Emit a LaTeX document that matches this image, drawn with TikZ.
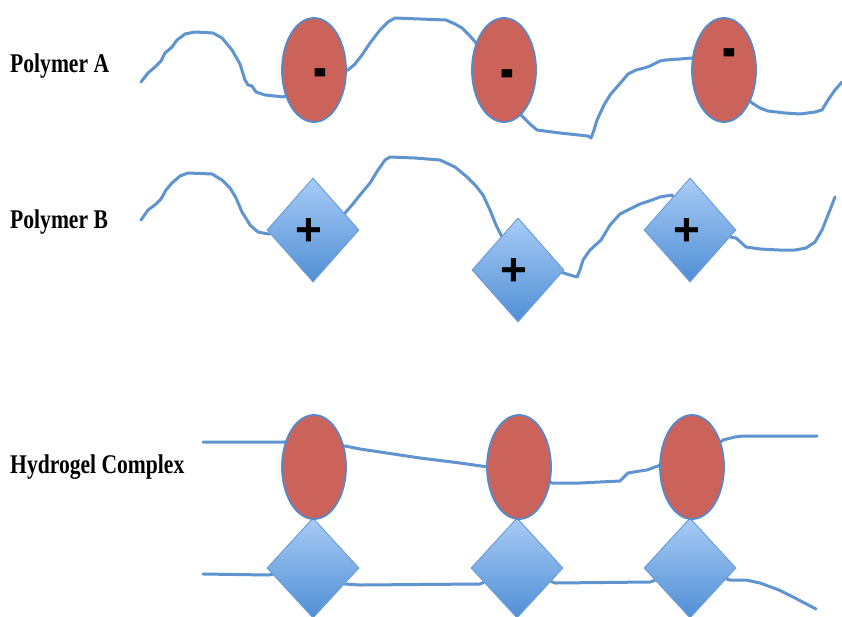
\documentclass[tikz,border=0pt]{standalone}
\usepackage{graphicx}
\usepackage{fontspec}
\setmainfont{Liberation Serif}
\newfontfamily\labelfont[FakeStretch=0.8]{Liberation Serif}
\newfontfamily\signfont{Liberation Sans}
\usetikzlibrary{shapes.geometric}

\definecolor{chainblue}{RGB}{96,148,207}
\definecolor{rimblue}{RGB}{88,136,200}
\definecolor{anionred}{RGB}{203,99,90}
\definecolor{gemrim}{RGB}{110,158,214}
\definecolor{gemtop}{RGB}{168,203,246}
\definecolor{gembottom}{RGB}{80,143,213}

\pgfdeclarelayer{paper}
\pgfdeclarelayer{chains}
\pgfsetlayers{paper,chains,main}

\tikzset{
  chain/.style={draw=chainblue, line width=3pt, line join=round, line cap=round},
  anion/.style={ellipse, draw=rimblue, line width=1.8pt, fill=anionred,
    minimum width=64pt, minimum height=104pt, inner sep=0pt},
  cation/.style={diamond, draw=gemrim, line width=1pt, top color=gemtop,
    bottom color=gembottom, minimum width=92pt, minimum height=104pt, inner sep=0pt},
  minus/.style={font=\signfont\bfseries\fontsize{36}{36}\selectfont, inner sep=0pt},
  plus/.style={font=\signfont\bfseries\fontsize{46}{46}\selectfont, inner sep=0pt},
  tag/.style={font=\labelfont\bfseries\fontsize{27}{27}\selectfont, anchor=base west, inner sep=0pt},
}
\newcommand{\negsign}{\scalebox{1.15}[1.9]{-}}

\begin{document}
\begin{tikzpicture}[x=1pt, y=-1pt]
\useasboundingbox (0,0) rectangle (842,616);
\begin{pgfonlayer}{paper}
\fill[white] (0,0) rectangle (842,616);
\end{pgfonlayer}

% labels
\node[tag] (labA) at (10,72) {Polymer A};
\node[tag] (labB) at (10,228) {Polymer B};
\node[tag] (labC) at (10,473) {Hydrogel Complex};

% polymer A: anionic groups
\node[anion] (A1) at (314,70) {};
\node[anion] (A2) at (504,70) {};
\node[anion] (A3) at (724,70) {};
\node[minus] (mA1) at (320,80) {\negsign};
\node[minus] (mA2) at (507,81) {\negsign};
\node[minus] (mA3) at (729,60) {\negsign};

% polymer B: cationic groups
\node[cation] (B1) at (313,230) {};
\node[cation] (B2) at (518,270) {};
\node[cation] (B3) at (690,230) {};
\node[plus] (pB1) at (309,232) {+};
\node[plus] (pB2) at (514,272) {+};
\node[plus] (pB3) at (687,232) {+};

% hydrogel complex: paired groups
\node[cation, minimum height=100pt] (D1) at (313,568) {};
\node[cation, minimum height=100pt] (D2) at (517,568) {};
\node[cation, minimum height=100pt] (D3) at (690,568) {};
\node[anion] (C1) at (314,467) {};
\node[anion] (C2) at (519,467) {};
\node[anion] (C3) at (692,467) {};

\coordinate (aS) at (141,82);  \coordinate (aE) at (842,82);
\coordinate (bS) at (141,220); \coordinate (bE) at (835,197);
\coordinate (cS) at (203,442); \coordinate (cE) at (817,436);
\coordinate (dS) at (203,574); \coordinate (dE) at (816,609);

\begin{pgfonlayer}{chains}
% polymer A backbone
\draw[chain] (aS) -- (148,73) -- (155,67) -- (161,61) -- (165,53) -- (172,47) -- (177,40)
  -- (185,34) -- (195,32) -- (213,33) -- (222,38) -- (232,50) -- (240,64) -- (245,80)
  -- (248,85) -- (252,86) -- (256,92) -- (265,95) -- (284,97) -- (A1);
\draw[chain] (A1) -- (348,70) -- (355,64) -- (362,55) -- (370,43) -- (380,30) -- (388,22)
  -- (395,18) -- (420,19) -- (446,20) -- (455,24) -- (462,28) -- (470,36) -- (476,43) -- (A2);
\draw[chain] (A2) -- (521,115) -- (530,124) -- (537,130) -- (560,133) -- (588,136)
  -- (591,138) -- (594,130) -- (597,120) -- (604,105) -- (610,95) -- (616,88) -- (623,80)
  -- (628,74) -- (636,70) -- (644,68) -- (650,66) -- (660,61) -- (666,60) -- (680,59)
  -- (692,58) -- (A3);
\draw[chain] (A3) -- (752,103) -- (760,108) -- (768,111) -- (785,113) -- (800,114)
  -- (815,112) -- (822,110) -- (828,100) -- (835,90) -- (aE);
% polymer B backbone
\draw[chain] (bS) -- (148,210) -- (156,204) -- (161,199) -- (166,190) -- (172,183)
  -- (180,176) -- (188,173) -- (212,174) -- (222,180) -- (230,188) -- (236,198)
  -- (242,212) -- (247,220) -- (250,225) -- (258,232) -- (268,234) -- (B1);
\draw[chain] (B1) -- (345,213) -- (352,205) -- (360,195) -- (370,183) -- (378,170)
  -- (385,160) -- (390,157) -- (415,158) -- (440,160) -- (455,167) -- (467,177)
  -- (476,186) -- (483,195) -- (490,210) -- (496,225) -- (501,235) -- (B2);
\draw[chain] (B2) -- (564,273) -- (570,275) -- (577,277) -- (580,270) -- (583,260)
  -- (590,250) -- (601,240) -- (610,225) -- (620,214) -- (628,210) -- (640,204)
  -- (652,200) -- (660,197) -- (672,195) -- (B3);
\draw[chain] (B3) -- (736,238) -- (746,247) -- (760,249) -- (779,250) -- (795,250)
  -- (806,248) -- (815,242) -- (822,230) -- (828,215) -- (bE);
% hydrogel: upper backbone
\draw[chain] (cS) -- (286,442) -- (C1) -- (345,446) -- (360,449) -- (380,452)
  -- (420,458) -- (460,463) -- (488,467) -- (C2) -- (552,483) -- (580,483)
  -- (620,481) -- (628,473) -- (640,471) -- (647,470) -- (655,467) -- (662,465)
  -- (C3) -- (723,440) -- (735,437) -- (743,436) -- (780,436) -- (cE);
% hydrogel: lower backbone
\draw[chain] (dS) -- (268,575) -- (D1) -- (345,584) -- (360,585) -- (480,584)
  -- (D2) -- (555,583) -- (650,582) -- (D3) -- (730,580) -- (746,580) -- (760,583)
  -- (779,590) -- (795,598) -- (dE);
\end{pgfonlayer}
\end{tikzpicture}
\end{document}
